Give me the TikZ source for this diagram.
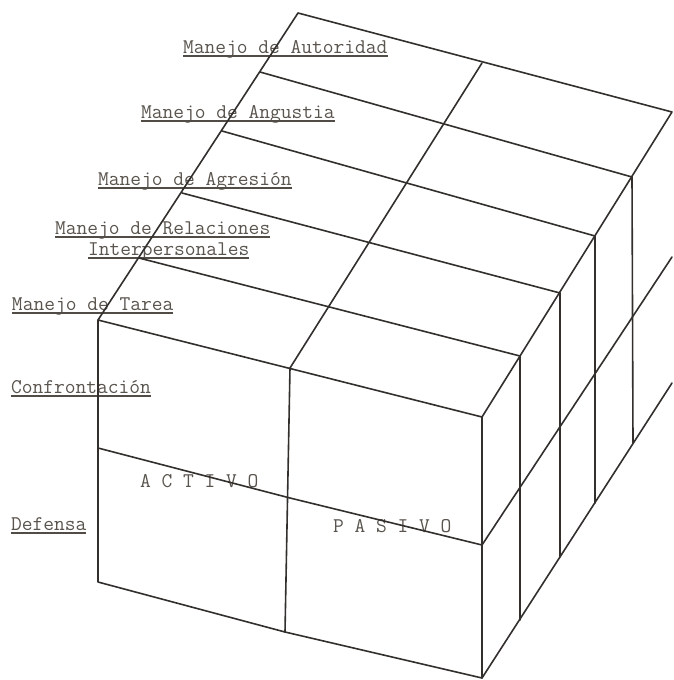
\documentclass[tikz,border=0pt]{standalone}
\usepackage{fontspec}
\definecolor{lblcol}{RGB}{90,84,78}
\definecolor{linecol}{RGB}{50,47,45}
\newcommand{\lblfont}{\ttfamily\addfontfeature{FakeBold=1.2}\fontsize{20.9}{22}\selectfont}
\begin{document}
\begin{tikzpicture}[x=1pt,y=-1pt,
  edge/.style={line width=1.6pt, draw=linecol, line cap=round, line join=round},
  lbl/.style={anchor=base west, inner sep=0pt, outer sep=0pt, text=lblcol, font=\lblfont},
  uline/.style={line width=1.5pt, draw=lblcol!90!black}]
\useasboundingbox (0,0) rectangle (674,680);
% ---- labels ----
\node[lbl] (t1) at (183,53) {Manejo de Autoridad};
\node[lbl] (t2) at (141,118) {Manejo de Angustia};
\node[lbl] (t3) at (98,185) {Manejo de Agresión};
\node[lbl] (t4) at (55,234) {Manejo de Relaciones};
\node[lbl] (t4b) at (88,255) {Interpersonales};
\node[lbl] (t5) at (12,310) {Manejo de Tarea};
\node[lbl] (t6) at (11,393) {Confrontación};
\node[lbl] (t7) at (11,530) {Defensa};
\node[lbl] (ta) at (140,487) {A C T I V O};
\node[lbl] (tp) at (333,532) {P A S I V O};
\foreach \n in {t1,t2,t3,t4,t4b,t5,t6,t7}
  \draw[uline] ([yshift=-3pt]\n.base west) -- ([yshift=-3pt]\n.base east);
% ---- coordinates ----
\coordinate (L0) at (298,13);
\coordinate (L1) at (260,72);
\coordinate (L2) at (222,131);
\coordinate (L3) at (182,193);
\coordinate (L4) at (139,258);
\coordinate (L5) at (98,320);
\coordinate (R0) at (672,112);
\coordinate (R1) at (632,177);
\coordinate (R2) at (595,236);
\coordinate (R3) at (560,293);
\coordinate (R4) at (520,356);
\coordinate (R5) at (482,417);
\coordinate (M0) at (482,63);
\coordinate (M5) at (290,368);
\coordinate (FL) at (98,448);
\coordinate (FM) at (290,498);
\coordinate (FR) at (482,545);
\coordinate (BL) at (98,582);
\coordinate (BM) at (285,632);
\coordinate (BR) at (482,678);
\coordinate (B4) at (520,620);
\coordinate (B3) at (560,557);
\coordinate (B2) at (595,503);
\coordinate (B1) at (633,443);
\coordinate (BE) at (672,383);
\coordinate (ME) at (672,257);
% ---- top face ----
\draw[edge] (L0) -- (R0) -- (R5) -- (L5) -- cycle;
\draw[edge] (L1) -- (R1);
\draw[edge] (L2) -- (R2);
\draw[edge] (L3) -- (R3);
\draw[edge] (L4) -- (R4);
\draw[edge] (M0) -- (M5);
% ---- front face ----
\draw[edge] (L5) -- (BL) -- (BM) -- (BR) -- (R5);
\draw[edge] (M5) -- (BM);
\draw[edge] (FL) -- (FM) -- (FR);
% ---- right face ----
\draw[edge] (BR) -- (BE);
\draw[edge] (FR) -- (ME);
\draw[edge] (R4) -- (B4);
\draw[edge] (R3) -- (B3);
\draw[edge] (R2) -- (B2);
\draw[edge] (R1) -- (B1);
\end{tikzpicture}
\end{document}
